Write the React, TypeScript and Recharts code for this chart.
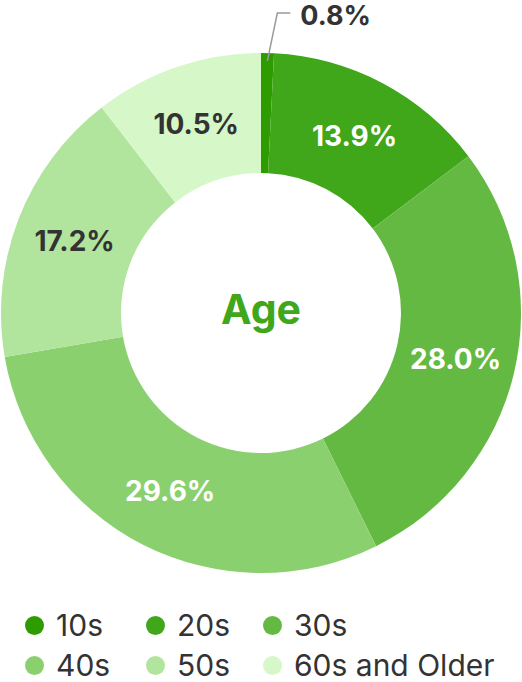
import React from "react";
import { PieChart, Pie, Cell, Label } from "recharts";

const ageGroups = ["10s", "20s", "30s", "40s", "50s", "60s and Older"];
const shares = [0.8, 13.9, 28.0, 29.6, 17.2, 10.5];
const sliceColors = ["#2e9b00", "#40a61a", "#64b943", "#8bd06f", "#b1e49c", "#d6f7c8"];
const labelColors = ["#333333", "#ffffff", "#ffffff", "#ffffff", "#333333", "#333333"];

const chartData = ageGroups.map((name, i) => ({ name, value: shares[i] }));

const RAD = Math.PI / 180;
const FONT = "Inter, 'Noto Sans', sans-serif";

function renderLabel(props: any) {
  const { cx, cy, midAngle, innerRadius, outerRadius, index, value } = props;
  const text = `${value.toFixed(1)}%`;
  if (index === 0) {
    // tiny slice: label sits outside with a leader line
    const r = outerRadius - 8;
    const sx = cx + r * Math.cos(-midAngle * RAD);
    const sy = cy + r * Math.sin(-midAngle * RAD);
    const ex = sx + 10;
    const ey = sy - 48;
    return (
      <g>
        <polyline
          points={`${sx},${sy} ${ex},${ey} ${ex + 13},${ey}`}
          fill="none"
          stroke="#9a9a9a"
          strokeWidth={1.5}
        />
        <text
          x={ex + 23}
          y={ey + 2}
          fill={labelColors[index]}
          fontSize={27}
          fontWeight={700}
          fontFamily={FONT}
          textAnchor="start"
          dominantBaseline="central"
        >
          {text}
        </text>
      </g>
    );
  }
  const r = (innerRadius + outerRadius) / 2;
  const x = cx + r * Math.cos(-midAngle * RAD);
  const y = cy + r * Math.sin(-midAngle * RAD);
  return (
    <text
      x={x}
      y={y}
      fill={labelColors[index]}
      fontSize={28}
      fontWeight={700}
      fontFamily={FONT}
      textAnchor="middle"
      dominantBaseline="central"
    >
      {text}
    </text>
  );
}

function CenterTitle(props: any) {
  const vb = props.viewBox || {};
  const cx = vb.cx ?? (vb.x ?? 0) + (vb.width ?? 0) / 2;
  const cy = vb.cy ?? (vb.y ?? 0) + (vb.height ?? 0) / 2;
  return (
    <text
      x={cx}
      y={cy + 11}
      fill="#40a61a"
      fontSize={41}
      fontWeight={700}
      fontFamily={FONT}
      textAnchor="middle"
    >
      Age
    </text>
  );
}

function AgeLegend() {
  return (
    <div
      style={{
        display: "grid",
        gridTemplateColumns: "121px 117px 230px",
        gridAutoRows: 20,
        rowGap: 20,
        paddingLeft: 25,
        fontFamily: FONT,
        fontSize: 30,
        lineHeight: "20px",
        color: "#333333",
      }}
    >
      {ageGroups.map((name, i) => (
        <div key={name} style={{ display: "flex", alignItems: "center", height: 20 }}>
          <span
            style={{
              width: 19,
              height: 19,
              borderRadius: "50%",
              background: sliceColors[i],
              marginRight: 12,
              flexShrink: 0,
            }}
          />
          <span style={{ whiteSpace: "nowrap" }}>{name}</span>
        </div>
      ))}
    </div>
  );
}

export default function App() {
  return (
    <div style={{ position: "absolute", left: 0, top: 0, width: 522, height: 682, background: "#fff" }}>
      <PieChart width={522} height={626} margin={{ top: 0, right: 0, bottom: 0, left: 0 }}>
        <Pie
          data={chartData}
          dataKey="value"
          nameKey="name"
          cx="50%"
          cy="50%"
          innerRadius={140}
          outerRadius={260}
          startAngle={90}
          endAngle={-270}
          stroke="none"
          label={renderLabel}
          labelLine={false}
          isAnimationActive={false}
        >
          {chartData.map((d, i) => (
            <Cell key={d.name} fill={sliceColors[i]} />
          ))}
          <Label position="center" content={CenterTitle} />
        </Pie>
      </PieChart>
      <div style={{ position: "absolute", left: 0, top: 615 }}>
        <AgeLegend />
      </div>
    </div>
  );
}
